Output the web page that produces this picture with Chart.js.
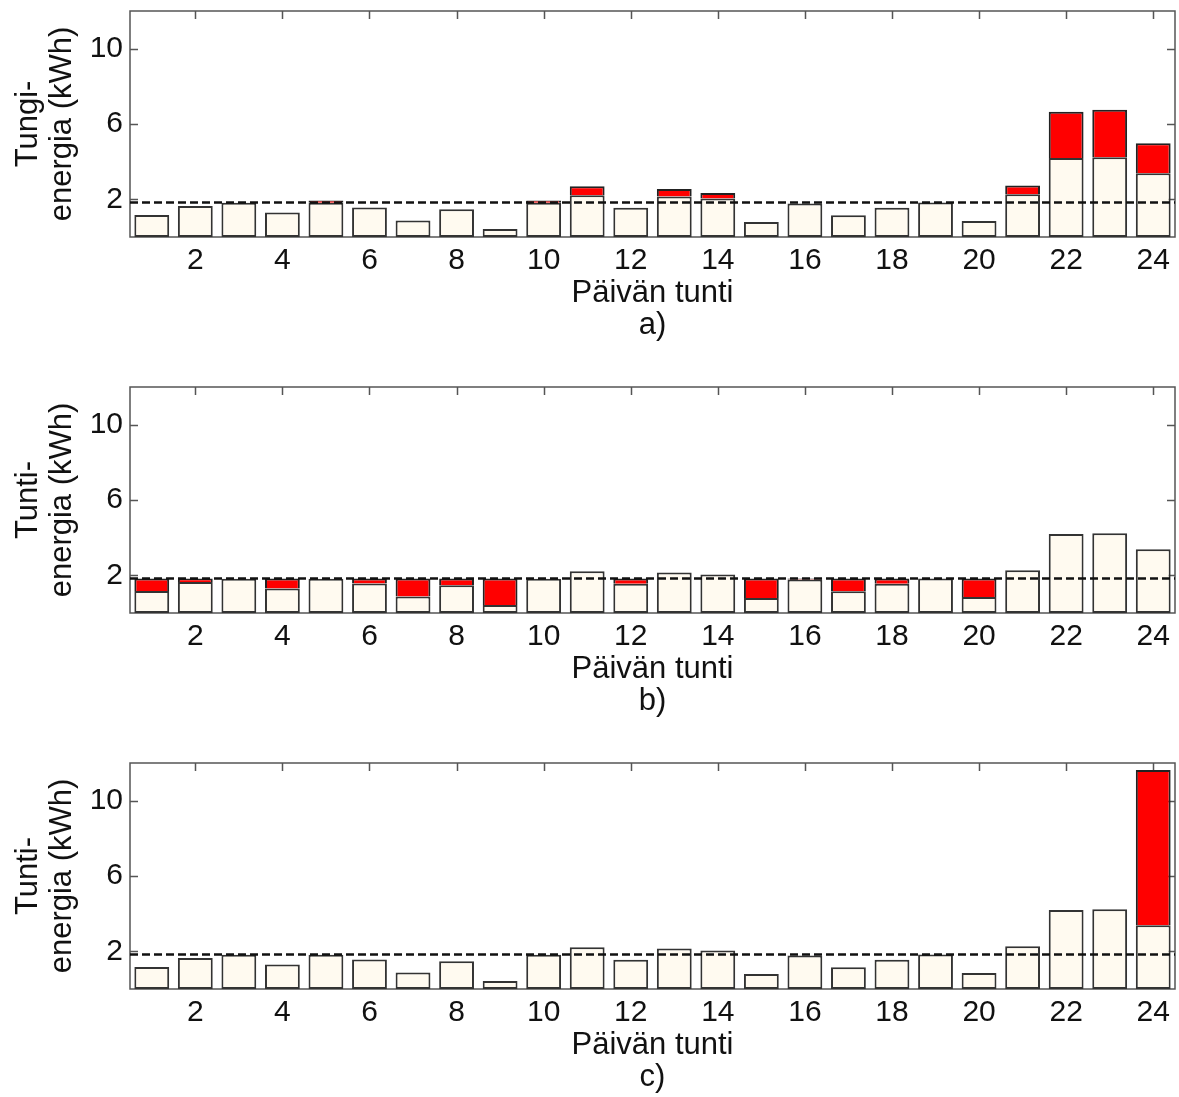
<!DOCTYPE html>
<html lang="fi">
<head>
<meta charset="UTF-8">
<title>Tuntienergia</title>
<script src="https://cdn.jsdelivr.net/npm/chart.js@4.4.0/dist/chart.umd.min.js"></script>
<style>
  body { margin: 0; background: #fff; }
  .panel { width: 1179px; height: 376px; }
  canvas { display: block; }
</style>
</head>
<body>
<div class="panel"><canvas id="chart-a" width="1179" height="376"></canvas></div>
<div class="panel"><canvas id="chart-b" width="1179" height="376"></canvas></div>
<div class="panel"><canvas id="chart-c" width="1179" height="376"></canvas></div>

<script>
// päivän tunnit
const hours = ['1', '2', '3', '4', '5', '6', '7', '8', '9', '10', '11', '12',
               '13', '14', '15', '16', '17', '18', '19', '20', '21', '22', '23', '24'];
const yTicks = [2, 6, 10];

// tuntienergia (kWh), sama pohja kaikissa kuvissa
const baseLoad = [1.17, 1.65, 1.82, 1.3, 1.82, 1.57, 0.87, 1.48, 0.43, 1.82, 2.22, 1.55,
                  2.15, 2.05, 0.8, 1.78, 1.16, 1.55, 1.83, 0.85, 2.27, 4.2, 4.24, 3.38];
// a) punainen osa rajan yli
const peakA = [0, 0, 0, 0, 0.12, 0, 0, 0, 0, 0.12, 0.47, 0,
               0.4, 0.28, 0, 0, 0, 0, 0, 0, 0.47, 2.45, 2.52, 1.6];
// b) punainen täyttö rajaan asti
const fillB = [0.66, 0.18, 0, 0.53, 0, 0.26, 0.96, 0.35, 1.4, 0, 0, 0.28,
               0, 0, 1.03, 0.05, 0.67, 0.28, 0, 0.98, 0, 0, 0, 0];
// c) punainen osa
const peakC = [0, 0, 0, 0, 0, 0, 0, 0, 0, 0, 0, 0,
               0, 0, 0, 0, 0, 0, 0, 0, 0, 0, 0, 8.25];
const limitLevel = 1.83;

Chart.defaults.font.family = "'Liberation Sans', Arial, sans-serif";
Chart.defaults.color = '#111';

const framePlugin = {
  id: 'frame',
  beforeDatasetsDraw(chart) {
    const { ctx, chartArea: a, scales: { x, y } } = chart;
    ctx.save();
    ctx.strokeStyle = '#555';
    ctx.lineWidth = 1.5;
    ctx.strokeRect(a.left, a.top, a.right - a.left, a.bottom - a.top);
    ctx.beginPath();
    hours.forEach((h, i) => {
      if (i % 2 === 0) return;
      const px = Math.round(x.getPixelForValue(i)) + 0.5;
      ctx.moveTo(px, a.top); ctx.lineTo(px, a.top + 8);
      ctx.moveTo(px, a.bottom); ctx.lineTo(px, a.bottom - 8);
    });
    yTicks.forEach(v => {
      const py = Math.round(y.getPixelForValue(v)) + 0.5;
      ctx.moveTo(a.left, py); ctx.lineTo(a.left + 8, py);
      ctx.moveTo(a.right, py); ctx.lineTo(a.right - 8, py);
    });
    ctx.stroke();
    ctx.restore();
  },
  afterDatasetsDraw(chart) {
    const { ctx, chartArea: a, scales: { y } } = chart;
    const py = y.getPixelForValue(limitLevel);
    ctx.save();
    ctx.strokeStyle = '#111';
    ctx.lineWidth = 2.5;
    ctx.setLineDash([8, 4]);
    ctx.beginPath();
    ctx.moveTo(a.left, py);
    ctx.lineTo(a.right, py);
    ctx.stroke();
    ctx.restore();
  }
};

function makeChart(id, redData, yTitle, subLabel) {
  const barStyle = {
    barPercentage: 0.8,
    categoryPercentage: 1.0,
    borderWidth: 2,
    borderColor: '#333'
  };
  new Chart(document.getElementById(id), {
    type: 'bar',
    data: {
      labels: hours,
      datasets: [
        { ...barStyle, label: 'pohja', data: baseLoad, backgroundColor: '#fffaf0', borderSkipped: false },
        { ...barStyle, label: 'lisä', data: redData.map(v => v || null), backgroundColor: '#ff0000',
          borderColor: '#222', borderSkipped: 'start' }
      ]
    },
    options: {
      responsive: false,
      animation: false,
      layout: { padding: { top: 11, right: 4, left: 0, bottom: 0 } },
      plugins: { legend: { display: false }, tooltip: { enabled: false } },
      scales: {
        x: {
          stacked: true,
          grid: { display: false, drawTicks: false, tickLength: 0 },
          border: { display: false },
          ticks: {
            autoSkip: false,
            maxRotation: 0,
            padding: 7,
            font: { size: 30, lineHeight: 1.1 },
            callback: function (value, index) {
              return index % 2 === 1 ? this.getLabelForValue(value) : '';
            }
          },
          title: {
            display: true,
            text: ['Päivän tunti', subLabel],
            font: { size: 31, lineHeight: 1.03 },
            padding: { top: 0, bottom: 35 }
          },
          afterFit(scale) {
            scale.height = 139;
            scale.paddingLeft = 0;
            scale.paddingRight = 0;
          }
        },
        y: {
          stacked: true,
          min: 0,
          max: 12,
          grid: { display: false, drawTicks: false, tickLength: 0 },
          border: { display: false },
          afterBuildTicks(scale) { scale.ticks = yTicks.map(v => ({ value: v })); },
          ticks: { padding: 7, font: { size: 30, lineHeight: 1.1 } },
          title: {
            display: true,
            text: yTitle,
            font: { size: 31, lineHeight: 1.1 },
            padding: { top: 11, bottom: 0 }
          },
          afterFit(scale) {
            scale.width = 130;
            scale.paddingTop = 0;
            scale.paddingBottom = 0;
          }
        }
      }
    },
    plugins: [framePlugin]
  });
}

makeChart('chart-a', peakA, ['Tungi-', 'energia (kWh)'], 'a)');
makeChart('chart-b', fillB, ['Tunti-', 'energia (kWh)'], 'b)');
makeChart('chart-c', peakC, ['Tunti-', 'energia (kWh)'], 'c)');
</script>
</body>
</html>
